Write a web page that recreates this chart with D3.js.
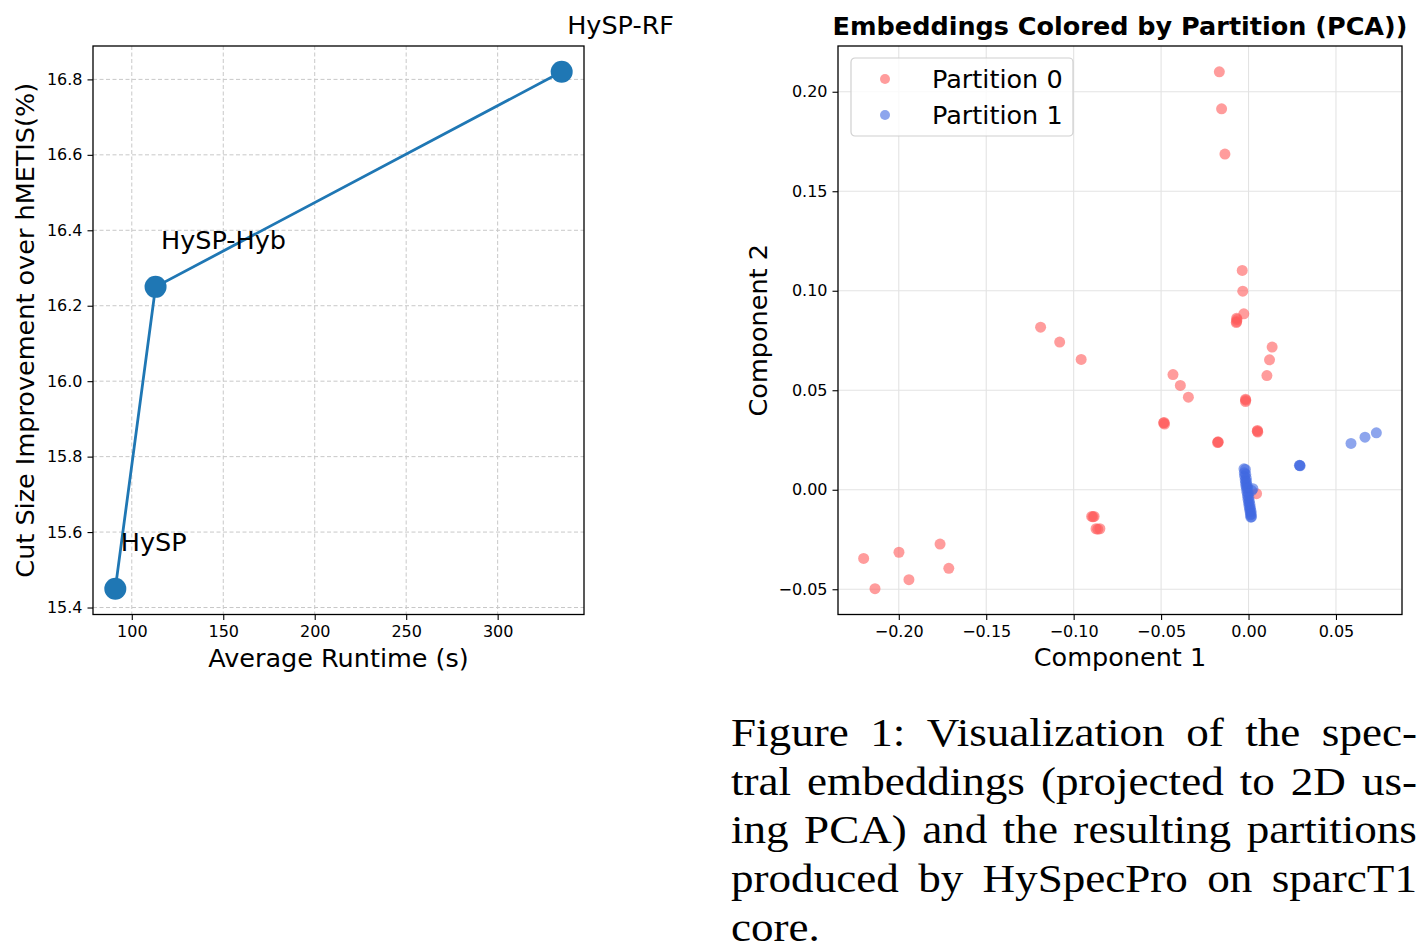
<!DOCTYPE html>
<html>
<head>
<meta charset="utf-8">
<script src="https://cdn.jsdelivr.net/npm/d3@7"></script>
<style>
  body { margin: 0; background: #fff; }
  svg text { font-family: "DejaVu Sans", sans-serif; fill: #000; }
</style>
</head>
<body>
<svg id="fig" width="1419" height="946"></svg>
<script>
// left panel: runtime vs cut size improvement
var methods = ['HySP', 'HySP-Hyb', 'HySP-RF'];
var runtimes = [91, 113, 335];
var improvements = [15.45, 16.25, 16.82];
var runtimeTicks = [100, 150, 200, 250, 300];
var improvementTicks = [15.4, 15.6, 15.8, 16.0, 16.2, 16.4, 16.6, 16.8];

// right panel: PCA embeddings as [component 1, component 2]
var partition0 = [
  [-0.0167, 0.2100], [-0.0154, 0.1914], [-0.0135, 0.1687],
  [-0.0036, 0.1102], [-0.0033, 0.0998], [-0.0027, 0.0884],
  [-0.0068, 0.0862], [-0.0068, 0.0845], [-0.0066, 0.0855], [-0.0070, 0.0840],
  [-0.1189, 0.0817], [-0.1080, 0.0742], [-0.0957, 0.0655],
  [0.0135, 0.0717], [0.0120, 0.0653], [0.0105, 0.0574],
  [-0.0432, 0.0579], [-0.0390, 0.0524], [-0.0344, 0.0465],
  [-0.0017, 0.0455], [-0.0017, 0.0443], [-0.0016, 0.0450],
  [-0.0483, 0.0338], [-0.0480, 0.0330], [-0.0486, 0.0335],
  [0.0051, 0.0298], [0.0053, 0.0290], [0.0050, 0.0294],
  [-0.0175, 0.0241], [-0.0177, 0.0237], [-0.0173, 0.0239],
  [-0.0897, -0.0134], [-0.0883, -0.0134], [-0.0890, -0.0136],
  [-0.0872, -0.0196], [-0.0850, -0.0196], [-0.0862, -0.0198],
  [0.0046, -0.0020],
  [-0.2201, -0.0345], [-0.2136, -0.0497], [-0.1999, -0.0314],
  [-0.1942, -0.0452], [-0.1764, -0.0273], [-0.1714, -0.0395]
];
var partition1 = [
  [-0.0026, 0.0105], [-0.0024, 0.0085], [-0.0022, 0.0068], [-0.0019, 0.0050],
  [-0.0017, 0.0035], [-0.0015, 0.0020], [-0.0012, 0.0005], [0.0025, 0.0005],
  [-0.0009, -0.0012], [-0.0006, -0.0030], [-0.0003, -0.0048], [0.0000, -0.0065],
  [0.0003, -0.0082], [0.0006, -0.0098], [0.0009, -0.0112], [0.0011, -0.0126],
  [0.0013, -0.0138],
  [-0.0018, 0.0102], [-0.0016, 0.0078], [-0.0013, 0.0058], [-0.0011, 0.0040],
  [-0.0008, 0.0022], [-0.0005, 0.0008], [0.0018, -0.0004], [-0.0001, -0.0020],
  [0.0002, -0.0040], [0.0005, -0.0058], [0.0008, -0.0075], [0.0011, -0.0092],
  [0.0014, -0.0108], [0.0016, -0.0122], [0.0017, -0.0136],
  [0.0293, 0.0122], [0.0295, 0.0120], [0.0291, 0.0123],
  [0.0586, 0.0233], [0.0666, 0.0264], [0.0731, 0.0286]
];
var partitionNames = ['Partition 0', 'Partition 1'];
var partitionColors = ['#ff5a5a', '#4169e1'];
var compXTicks = [-0.20, -0.15, -0.10, -0.05, 0.00, 0.05];
var compYTicks = [-0.05, 0.00, 0.05, 0.10, 0.15, 0.20];

var captionLines = [
  'Figure 1:  Visualization of the spec-',
  'tral embeddings (projected to 2D us-',
  'ing PCA) and the resulting partitions',
  'produced by HySpecPro on sparcT1',
  'core.'
];

var svg = d3.select('#fig');
var labelSize = 25.5,
    tickSize = 16;

// matplotlib style 5% margin
function padded(ext) {
  var d = (ext[1] - ext[0]) * 0.05;
  return [ext[0] - d, ext[1] + d];
}

function styleAxis(g) {
  g.select('.domain').remove();
  g.selectAll('.tick line').attr('stroke', '#000').attr('stroke-width', 1.1);
  g.selectAll('.tick text').attr('font-size', tickSize).attr('fill', '#000')
    .attr('font-family', '"DejaVu Sans", sans-serif');
}

// ---------- left panel ----------
var L = { left: 93, right: 584, top: 46, bottom: 614.5 };

var x1 = d3.scaleLinear().domain(padded(d3.extent(runtimes))).range([L.left, L.right]);
var y1 = d3.scaleLinear().domain(padded(d3.extent(improvements))).range([L.bottom, L.top]);

var left = svg.append('g');

left.append('g').selectAll('line')
  .data(runtimeTicks)
  .enter().append('line')
  .attr('x1', function(d) { return x1(d); })
  .attr('x2', function(d) { return x1(d); })
  .attr('y1', L.top).attr('y2', L.bottom)
  .attr('stroke', '#c8c8c8').attr('stroke-width', 1).attr('stroke-dasharray', '4,2.5');

left.append('g').selectAll('line')
  .data(improvementTicks)
  .enter().append('line')
  .attr('x1', L.left).attr('x2', L.right)
  .attr('y1', function(d) { return y1(d); })
  .attr('y2', function(d) { return y1(d); })
  .attr('stroke', '#c8c8c8').attr('stroke-width', 1).attr('stroke-dasharray', '4,2.5');

left.append('g')
  .attr('transform', 'translate(0,' + L.bottom + ')')
  .call(d3.axisBottom(x1).tickValues(runtimeTicks).tickSize(5.5).tickPadding(5.5))
  .call(styleAxis);

left.append('g')
  .attr('transform', 'translate(' + L.left + ',0)')
  .call(d3.axisLeft(y1).tickValues(improvementTicks).tickFormat(d3.format('.1f')).tickSize(5.5).tickPadding(5))
  .call(styleAxis);

var pts = runtimes.map(function(r, i) { return { name: methods[i], x: r, y: improvements[i] }; });

left.append('path')
  .datum(pts)
  .attr('fill', 'none')
  .attr('stroke', '#1f77b4')
  .attr('stroke-width', 2.8)
  .attr('d', d3.line().x(function(d) { return x1(d.x); }).y(function(d) { return y1(d.y); }));

left.selectAll('circle.pt')
  .data(pts)
  .enter().append('circle')
  .attr('cx', function(d) { return x1(d.x); })
  .attr('cy', function(d) { return y1(d.y); })
  .attr('r', 11)
  .attr('fill', '#1f77b4');

// annotations sit just right of and above each point
left.selectAll('text.lbl')
  .data(pts)
  .enter().append('text')
  .attr('x', function(d) { return x1(d.x + 3); })
  .attr('y', function(d) { return y1(d.y + 0.1); })
  .attr('font-size', labelSize)
  .text(function(d) { return d.name; });

left.append('rect')
  .attr('x', L.left).attr('y', L.top)
  .attr('width', L.right - L.left).attr('height', L.bottom - L.top)
  .attr('fill', 'none').attr('stroke', '#000').attr('stroke-width', 1.3);

left.append('text')
  .attr('x', (L.left + L.right) / 2).attr('y', 667)
  .attr('text-anchor', 'middle').attr('font-size', labelSize)
  .text('Average Runtime (s)');

left.append('text')
  .attr('transform', 'translate(34,' + (L.top + L.bottom) / 2 + ') rotate(-90)')
  .attr('text-anchor', 'middle').attr('font-size', labelSize)
  .text('Cut Size Improvement over hMETIS(%)');

// ---------- right panel ----------
var R = { left: 838, right: 1402, top: 46, bottom: 614.5 };
var allPts = partition0.concat(partition1);

var x2 = d3.scaleLinear().domain(padded(d3.extent(allPts, function(d) { return d[0]; }))).range([R.left, R.right]);
var y2 = d3.scaleLinear().domain(padded(d3.extent(allPts, function(d) { return d[1]; }))).range([R.bottom, R.top]);

var right = svg.append('g');

right.append('g').selectAll('line')
  .data(compXTicks)
  .enter().append('line')
  .attr('x1', function(d) { return x2(d); })
  .attr('x2', function(d) { return x2(d); })
  .attr('y1', R.top).attr('y2', R.bottom)
  .attr('stroke', '#e3e3e3').attr('stroke-width', 1.1);

right.append('g').selectAll('line')
  .data(compYTicks)
  .enter().append('line')
  .attr('x1', R.left).attr('x2', R.right)
  .attr('y1', function(d) { return y2(d); })
  .attr('y2', function(d) { return y2(d); })
  .attr('stroke', '#e3e3e3').attr('stroke-width', 1.1);

right.append('g')
  .attr('transform', 'translate(0,' + R.bottom + ')')
  .call(d3.axisBottom(x2).tickValues(compXTicks).tickFormat(d3.format('.2f')).tickSize(5.5).tickPadding(5.5))
  .call(styleAxis);

right.append('g')
  .attr('transform', 'translate(' + R.left + ',0)')
  .call(d3.axisLeft(y2).tickValues(compYTicks).tickFormat(d3.format('.2f')).tickSize(5.5).tickPadding(5))
  .call(styleAxis);

[partition0, partition1].forEach(function(set, k) {
  right.append('g').selectAll('circle')
    .data(set)
    .enter().append('circle')
    .attr('cx', function(d) { return x2(d[0]); })
    .attr('cy', function(d) { return y2(d[1]); })
    .attr('r', 5.5)
    .attr('fill', partitionColors[k])
    .attr('fill-opacity', 0.6);
});

right.append('rect')
  .attr('x', R.left).attr('y', R.top)
  .attr('width', R.right - R.left).attr('height', R.bottom - R.top)
  .attr('fill', 'none').attr('stroke', '#000').attr('stroke-width', 1.3);

// legend
var legend = right.append('g').attr('transform', 'translate(851,58)');

legend.append('rect')
  .attr('width', 222).attr('height', 78).attr('rx', 4)
  .attr('fill', '#fff').attr('fill-opacity', 0.8)
  .attr('stroke', '#d0d0d0').attr('stroke-width', 1.2);

var items = legend.selectAll('g.item')
  .data(partitionNames)
  .enter().append('g')
  .attr('transform', function(d, i) { return 'translate(0,' + (21 + i * 36) + ')'; });

items.append('circle')
  .attr('cx', 34).attr('r', 5)
  .attr('fill', function(d, i) { return partitionColors[i]; })
  .attr('fill-opacity', 0.6);

items.append('text')
  .attr('x', 81).attr('y', 9)
  .attr('font-size', labelSize)
  .text(function(d) { return d; });

right.append('text')
  .attr('x', (R.left + R.right) / 2).attr('y', 35)
  .attr('text-anchor', 'middle').attr('font-size', labelSize).attr('font-weight', 'bold')
  .text('Embeddings Colored by Partition (PCA))');

right.append('text')
  .attr('x', (R.left + R.right) / 2).attr('y', 666)
  .attr('text-anchor', 'middle').attr('font-size', labelSize)
  .text('Component 1');

right.append('text')
  .attr('transform', 'translate(767,' + (R.top + R.bottom) / 2 + ') rotate(-90)')
  .attr('text-anchor', 'middle').attr('font-size', labelSize)
  .text('Component 2');

// ---------- caption, justified like LaTeX ----------
var capLeft = 731, capRight = 1417, capTop = 746, capLead = 48.7, capStretch = 1.1;
var caption = svg.append('g');

captionLines.forEach(function(line, i) {
  var words = line.split(/\s+/);
  var y = capTop + i * capLead;
  var nodes = words.map(function(w) {
    return caption.append('text')
      .attr('font-size', 41)
      .style('font-family', '"Liberation Serif", "DejaVu Serif", serif')
      .text(w);
  });
  var widths = nodes.map(function(n) { return n.node().getComputedTextLength() * capStretch; });
  var total = d3.sum(widths);
  var last = i === captionLines.length - 1;
  var gap = (last || words.length < 2) ? 12 : (capRight - capLeft - total) / (words.length - 1);
  var xPos = capLeft;
  nodes.forEach(function(n, j) {
    n.attr('transform', 'translate(' + xPos + ',' + y + ') scale(' + capStretch + ',1)');
    xPos += widths[j] + gap;
  });
});
</script>
</body>
</html>
